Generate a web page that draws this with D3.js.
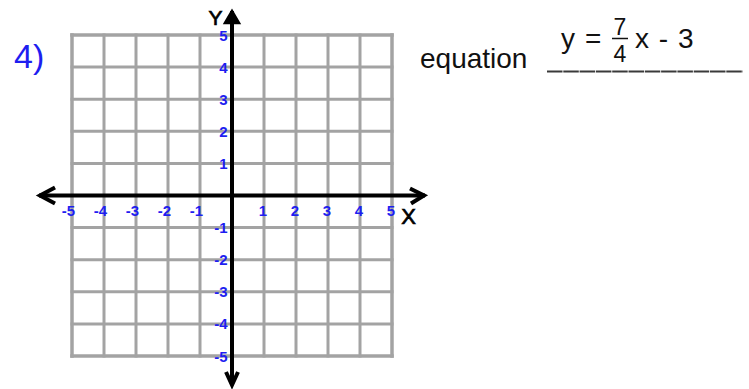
<!DOCTYPE html>
<html>
<head>
<meta charset="utf-8">
<script src="https://cdn.jsdelivr.net/npm/d3@7"></script>
<style>
  html, body { margin: 0; padding: 0; background: #fff; }
  svg { display: block; }
  text { font-family: "Liberation Sans", Arial, sans-serif; }
</style>
</head>
<body>
<svg id="chart" width="749" height="389"></svg>
<script>
// ---- data ----
const problemLabel = "4)";
const gridValues = [-5, -4, -3, -2, -1, 0, 1, 2, 3, 4, 5];
const xTickValues = [-5, -4, -3, -2, -1, 1, 2, 3, 4, 5];
const yTickValues = [-5, -4, -3, -2, -1, 1, 2, 3, 4, 5];
const xAxisName = "X";
const yAxisName = "Y";
const equationWord = "equation";
const slopeNumerator = [7];
const slopeDenominator = [4];
const intercept = [-3];

// ---- layout ----
const svg = d3.select("#chart");
const x = d3.scaleLinear().domain([-5, 5]).range([72, 392]);
const y = d3.scaleLinear().domain([-5, 5]).range([356, 35]);
const blue = "#1e1ef0";
const gridColor = "#a3a3a3";

// grid
const grid = svg.append("g");
grid.selectAll("line.v").data(gridValues).join("line")
  .attr("x1", d => x(d)).attr("x2", d => x(d))
  .attr("y1", y(5)).attr("y2", y(-5))
  .attr("stroke", gridColor)
  .attr("stroke-width", d => Math.abs(d) === 5 ? 3.5 : 3)
  .attr("stroke-linecap", "square");
grid.selectAll("line.h").data(gridValues).join("line")
  .attr("y1", d => y(d)).attr("y2", d => y(d))
  .attr("x1", x(-5)).attr("x2", x(5))
  .attr("stroke", gridColor)
  .attr("stroke-width", d => Math.abs(d) === 5 ? 3.5 : 3)
  .attr("stroke-linecap", "square");

// axes
const x0 = x(0), y0 = y(0);
const axes = svg.append("g").attr("stroke", "#000").attr("fill", "none")
  .attr("stroke-width", 4);
axes.append("line").attr("x1", 39).attr("x2", 425).attr("y1", y0).attr("y2", y0);
axes.append("line").attr("x1", x0).attr("x2", x0).attr("y1", 11).attr("y2", 385);
// arrowheads
const ah = axes.append("g").attr("stroke-linejoin", "miter").attr("stroke-linecap", "butt");
ah.append("path").attr("d", `M${55},${y0 - 8} L${40},${y0} L${55},${y0 + 8}`);
ah.append("path").attr("d", `M${410},${y0 - 7} L${424},${y0} L${411},${y0 + 8}`);
ah.append("path").attr("d", `M${x0 - 7},${23} L${x0},${11} L${x0 + 7},${23} Z`)
  .attr("fill", "#000").attr("stroke-width", 2.5);
ah.append("path").attr("d", `M${x0 - 6},${372} L${x0},${385} L${x0 + 6},${372}`);

// tick labels
svg.append("g").selectAll("text").data(xTickValues).join("text")
  .attr("x", d => x(d) + 3).attr("y", y0 + 20)
  .attr("text-anchor", "end")
  .attr("fill", blue).attr("font-size", 15).attr("font-weight", "bold")
  .text(d => d);
svg.append("g").selectAll("text").data(yTickValues).join("text")
  .attr("x", x0 - 4.5).attr("y", d => y(d) + 5.5)
  .attr("text-anchor", "end")
  .attr("fill", blue).attr("font-size", 15).attr("font-weight", "bold")
  .text(d => d);

// axis names
svg.append("text").attr("x", 215.5).attr("y", 25).attr("text-anchor", "middle")
  .attr("font-size", 21).attr("fill", "#000").attr("stroke", "#000").attr("stroke-width", 0.7)
  .text(yAxisName);
svg.append("text").attr("x", 408.5).attr("y", 223.5).attr("text-anchor", "middle")
  .attr("font-size", 22).attr("fill", "#000").attr("stroke", "#000").attr("stroke-width", 0.7)
  .text(xAxisName);

// problem number
svg.append("text").attr("x", 14).attr("y", 68).attr("font-size", 34)
  .attr("fill", blue).text(problemLabel);

// equation
svg.append("text").attr("x", 420).attr("y", 68).attr("font-size", 28)
  .attr("fill", "#111").text(equationWord);
svg.append("path").attr("d", "M547,71.5 L743,71.5")
  .attr("stroke", "#3a3a3a").attr("stroke-width", 2)
  .attr("stroke-dasharray", "15.5,0.8");
const eq = svg.append("g").attr("fill", "#111").attr("font-size", 28);
eq.append("text").attr("x", 561).attr("y", 48).text("y");
eq.append("text").attr("x", 585).attr("y", 48).text("=");
eq.append("text").attr("x", 620).attr("y", 35).attr("text-anchor", "middle")
  .attr("font-size", 23).text(slopeNumerator[0]);
eq.append("line").attr("x1", 612).attr("x2", 628).attr("y1", 38.5).attr("y2", 38.5)
  .attr("stroke", "#111").attr("stroke-width", 1.5);
eq.append("text").attr("x", 620).attr("y", 62).attr("text-anchor", "middle")
  .attr("font-size", 23).text(slopeDenominator[0]);
eq.append("text").attr("x", 635).attr("y", 48).attr("word-spacing", 2)
  .text("x " + (intercept[0] < 0 ? "- " : "+ ") + Math.abs(intercept[0]));
</script>
</body>
</html>
